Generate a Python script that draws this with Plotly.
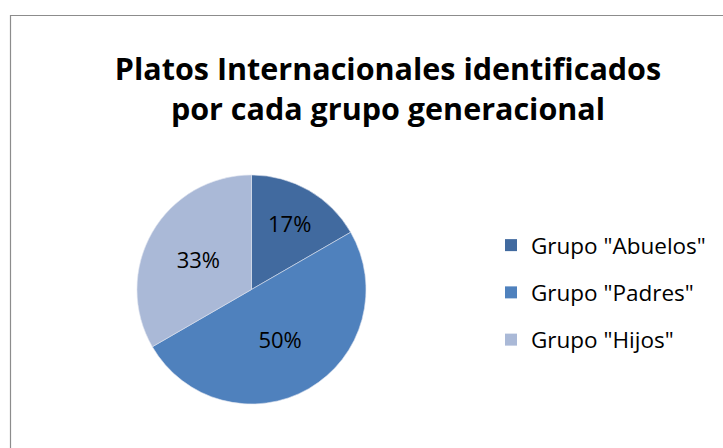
import plotly.graph_objects as go

categories = ['Grupo "Abuelos"', 'Grupo "Padres"', 'Grupo "Hijos"']
values = [1, 3, 2]
colors = ["#416A9F", "#4F81BD", "#AAB9D7"]
title_text = "<b>Platos Internacionales identificados<br>por cada grupo generacional</b>"

W, H = 723, 448
fig = go.Figure()

fig.add_trace(go.Pie(
    labels=categories, values=values, sort=False, direction="clockwise",
    rotation=0, marker=dict(colors=colors, line=dict(color="#DDE3EE", width=0.6)),
    textinfo="percent", texttemplate="%{percent:.0%}", textposition="inside",
    insidetextorientation="horizontal",
    textfont=dict(family="Open Sans", size=22, color="#000000"),
    domain=dict(x=[136 / W, 367 / W], y=[1 - 404 / H, 1 - 175 / H]),
    showlegend=False, hoverinfo="label+percent",
))

for i, (cat, col) in enumerate(zip(categories, colors)):
    fig.add_trace(go.Scatter(
        x=[None], y=[None], mode="markers", name=cat, legendgroup=f"g{i}",
        marker=dict(symbol="square", size=12, color=col), showlegend=True,
    ))

fig.update_layout(
    width=W, height=H, margin=dict(l=0, r=0, t=0, b=0),
    paper_bgcolor="white", plot_bgcolor="white",
    title=dict(text=title_text, x=388 / W, xanchor="center", y=1 - 80 / H, yanchor="top",
               font=dict(family="Open Sans", size=30.5, color="#000000")),
    xaxis=dict(visible=False), yaxis=dict(visible=False),
    legend=dict(x=491 / W, y=1 - 224 / H, xanchor="left", yanchor="top",
                font=dict(family="Open Sans", size=22.5, color="#000000"),
                tracegroupgap=15, bgcolor="rgba(0,0,0,0)"),
    shapes=[dict(type="rect", xref="paper", yref="paper", x0=10.5 / W, x1=1.02,
                 y0=-0.02, y1=1 - 15.5 / H, line=dict(color="#8C8C8C", width=1.2),
                 fillcolor="rgba(0,0,0,0)")],
)

fig.write_html("out.html", config={"displayModeBar": False},
               post_script="document.body.style.margin='0';")
